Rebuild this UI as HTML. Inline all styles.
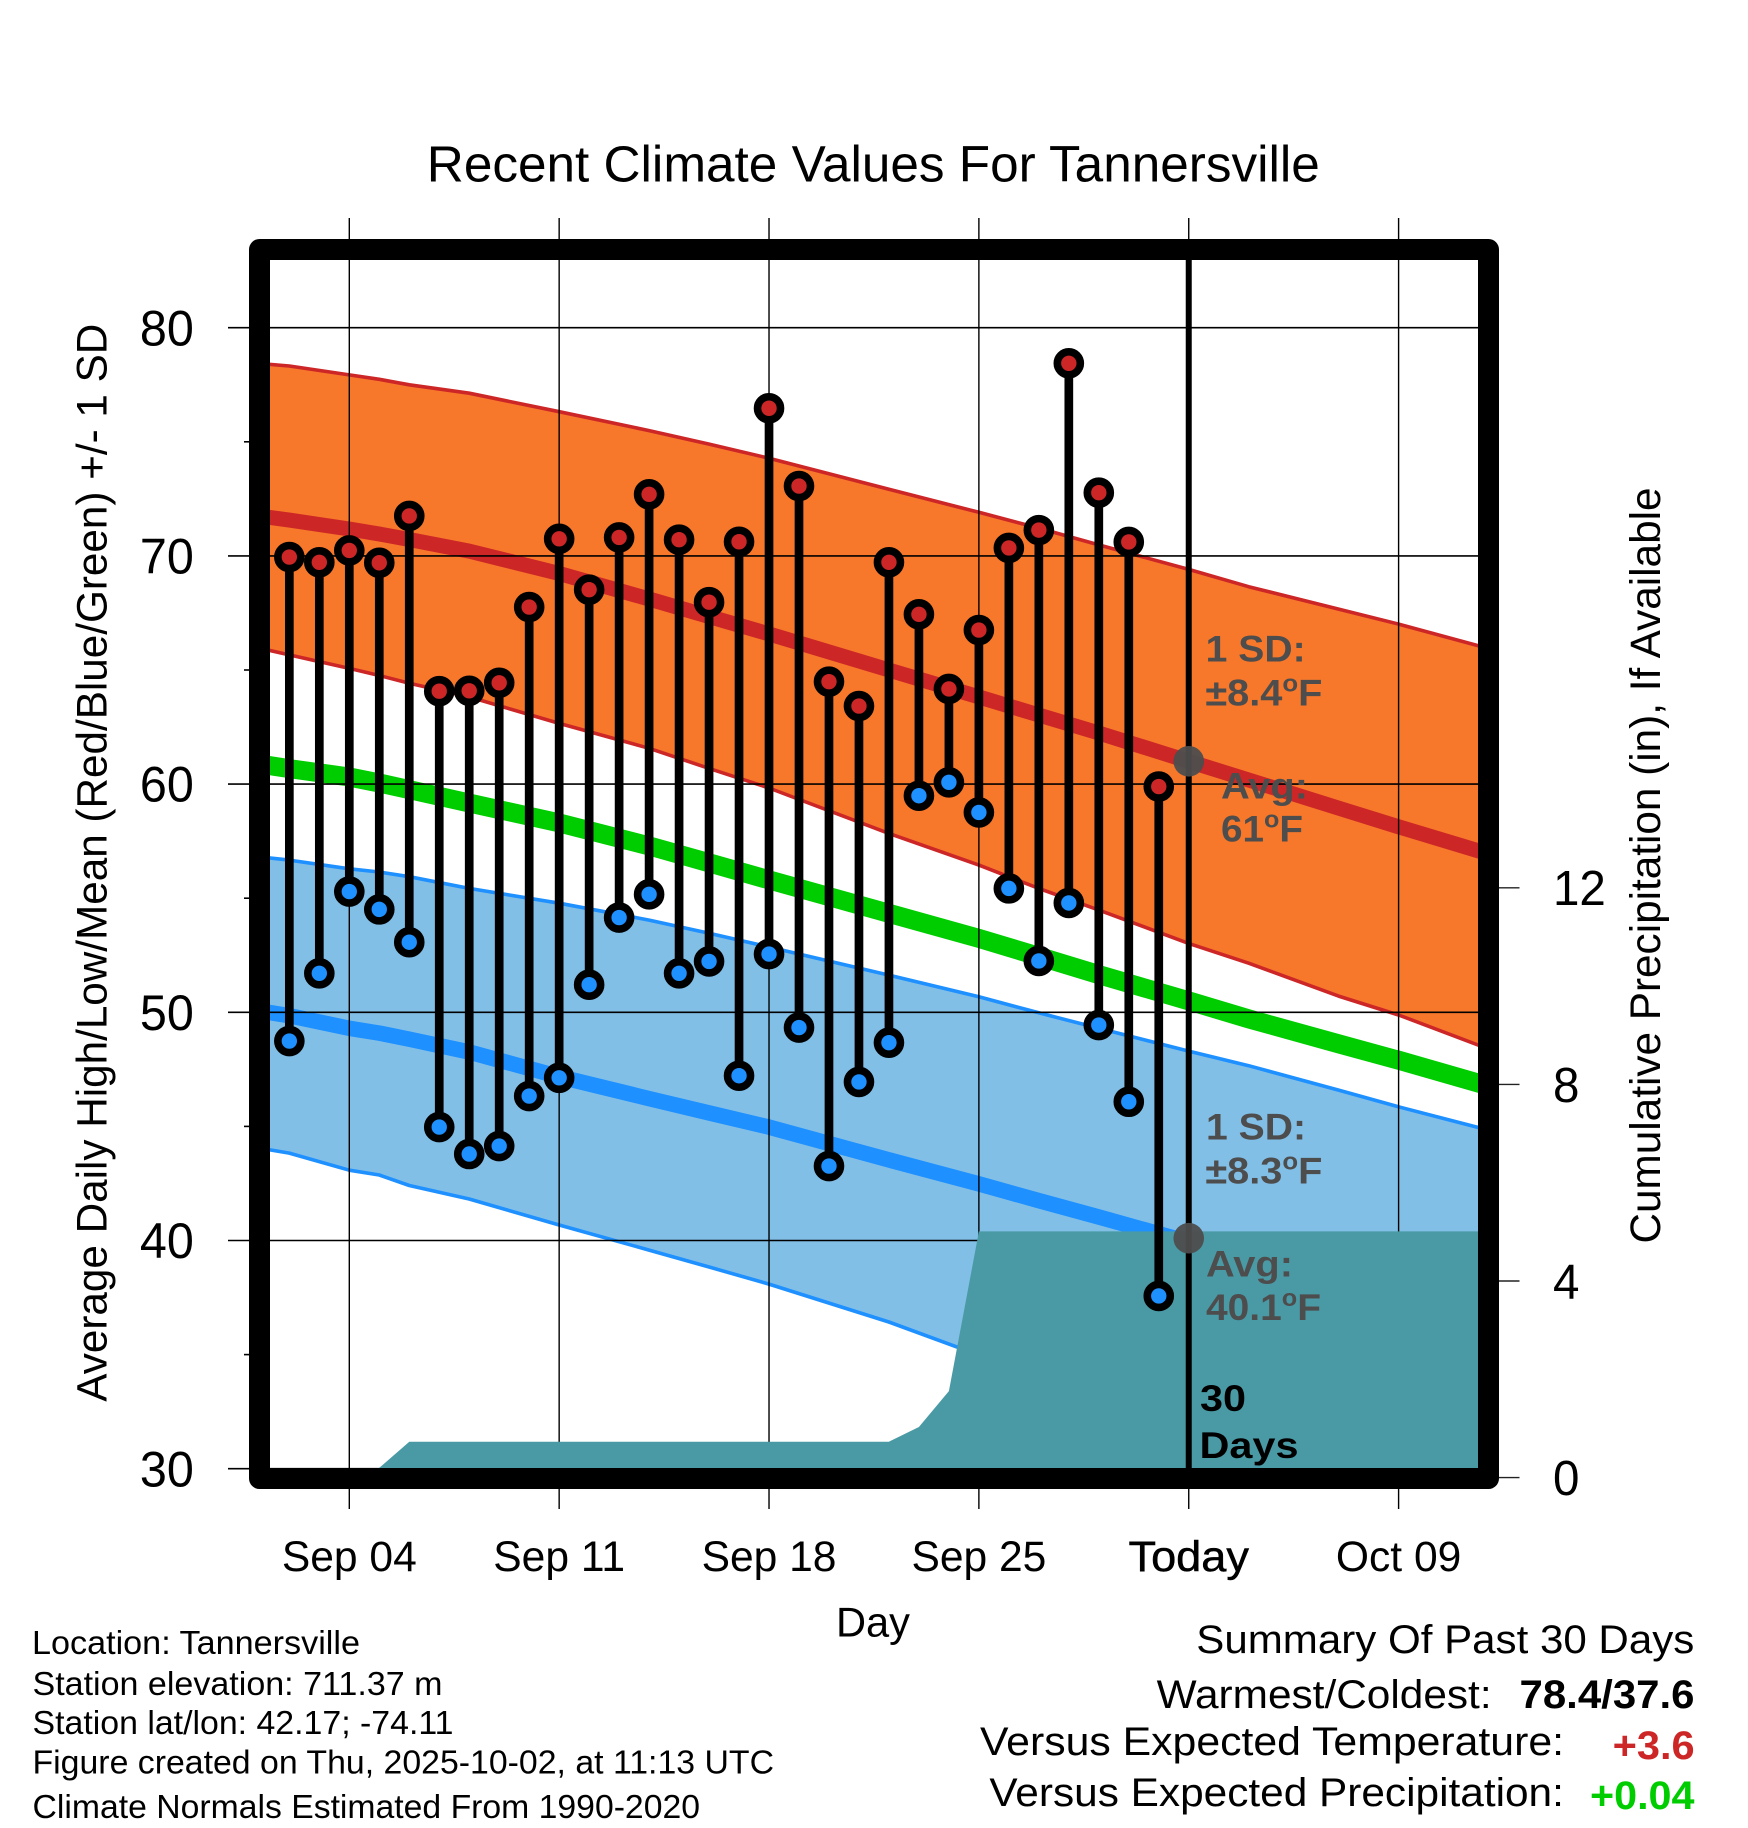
<!DOCTYPE html>
<html lang="en">
<head>
<meta charset="utf-8">
<title>Recent Climate Values For Tannersville</title>
<style>
html,body{margin:0;padding:0;background:#fff;}
svg{display:block;}
text{font-family:"Liberation Sans",Arial,sans-serif;}
</style>
</head>
<body>
<svg id="chart" xmlns="http://www.w3.org/2000/svg" width="1748" height="1828" viewBox="0 0 1748 1828">
  <defs>
    <clipPath id="plot-clip"><rect x="260" y="250" width="1228" height="1228"/></clipPath>
  </defs>
  <rect x="0" y="0" width="1748" height="1828" fill="#ffffff"/>
  <g id="plot"></g>

  <text x="426.8" y="181.5" font-size="51" textLength="893" lengthAdjust="spacingAndGlyphs">Recent Climate Values For Tannersville</text>
  <text transform="translate(106.5,1401.7) rotate(-90)" font-size="43" textLength="1078" lengthAdjust="spacingAndGlyphs">Average Daily High/Low/Mean (Red/Blue/Green) +/- 1 SD</text>
  <text transform="translate(1660,1243.5) rotate(-90)" font-size="43" textLength="756" lengthAdjust="spacingAndGlyphs">Cumulative Precipitation (in), If Available</text>
  <text x="836" y="1636.5" font-size="42" textLength="74" lengthAdjust="spacingAndGlyphs">Day</text>

  <g fill="#4d4d4d" font-weight="bold" font-size="37">
    <text x="1205.6" y="661.7" textLength="100" lengthAdjust="spacingAndGlyphs">1 SD:</text>
    <text x="1205.4" y="705.7" textLength="117" lengthAdjust="spacingAndGlyphs">±8.4<tspan font-size="24" dy="-14">o</tspan><tspan dy="14">F</tspan></text>
    <text x="1221" y="798.3" textLength="87" lengthAdjust="spacingAndGlyphs">Avg:</text>
    <text x="1221" y="841.7" textLength="82" lengthAdjust="spacingAndGlyphs">61<tspan font-size="24" dy="-14">o</tspan><tspan dy="14">F</tspan></text>
  </g>
  <g fill="#4d4d4d" font-weight="bold" font-size="37">
    <text x="1206" y="1139.3" textLength="100" lengthAdjust="spacingAndGlyphs">1 SD:</text>
    <text x="1205.4" y="1183.3" textLength="117" lengthAdjust="spacingAndGlyphs">±8.3<tspan font-size="24" dy="-14">o</tspan><tspan dy="14">F</tspan></text>
    <text x="1206" y="1276.7" textLength="87" lengthAdjust="spacingAndGlyphs">Avg:</text>
    <text x="1206" y="1320" textLength="115" lengthAdjust="spacingAndGlyphs">40.1<tspan font-size="24" dy="-14">o</tspan><tspan dy="14">F</tspan></text>
  </g>
  <text x="1200" y="1411" font-size="37" font-weight="bold" textLength="46" lengthAdjust="spacingAndGlyphs">30</text>
  <text x="1199.5" y="1458" font-size="37" font-weight="bold" textLength="99" lengthAdjust="spacingAndGlyphs">Days</text>

  <g font-size="33">
    <text x="32" y="1654" textLength="328" lengthAdjust="spacingAndGlyphs">Location: Tannersville</text>
    <text x="32.5" y="1695" textLength="410" lengthAdjust="spacingAndGlyphs">Station elevation: 711.37 m</text>
    <text x="32.5" y="1734" textLength="421" lengthAdjust="spacingAndGlyphs">Station lat/lon: 42.17; -74.11</text>
    <text x="32.5" y="1773.3" textLength="741.5" lengthAdjust="spacingAndGlyphs">Figure created on Thu, 2025-10-02, at 11:13 UTC</text>
    <text x="32.5" y="1818" textLength="667.5" lengthAdjust="spacingAndGlyphs">Climate Normals Estimated From 1990-2020</text>
  </g>

  <g font-size="40">
    <text x="1196.3" y="1652.8" textLength="498" lengthAdjust="spacingAndGlyphs">Summary Of Past 30 Days</text>
    <text x="1156.6" y="1707.8" textLength="335" lengthAdjust="spacingAndGlyphs">Warmest/Coldest:</text>
    <text x="1519.5" y="1707.8" font-weight="bold" textLength="175" lengthAdjust="spacingAndGlyphs">78.4/37.6</text>
    <text x="980" y="1754.8" textLength="584" lengthAdjust="spacingAndGlyphs">Versus Expected Temperature:</text>
    <text x="1612.6" y="1758.8" font-weight="bold" fill="#cd2626" textLength="82" lengthAdjust="spacingAndGlyphs">+3.6</text>
    <text x="989.4" y="1805.8" textLength="574.5" lengthAdjust="spacingAndGlyphs">Versus Expected Precipitation:</text>
    <text x="1590" y="1809.2" font-weight="bold" fill="#00cd00" textLength="104.5" lengthAdjust="spacingAndGlyphs">+0.04</text>
  </g>
</svg>

<script>
// Day offsets are counted from Sep 04.
const tickDays = [0, 7, 14, 21, 28, 35];
const tickDates = ["Sep 04", "Sep 11", "Sep 18", "Sep 25", "Today", "Oct 09"];
const tempTicks = [30, 40, 50, 60, 70, 80];
const tempMinorTicks = [35, 45, 55, 65, 75];
const precipTicks = [0, 4, 8, 12];

// Observed daily values, Sep 02 through Oct 01.
const obsDays = [-2,-1,0,1,2,3,4,5,6,7,8,9,10,11,12,13,14,15,16,17,18,19,20,21,22,23,24,25,26,27];
const dailyHigh = [69.95,69.72,70.24,69.70,71.75,64.07,64.09,64.44,67.76,70.75,68.52,70.81,72.70,70.71,67.97,70.62,76.47,73.06,64.49,63.42,69.72,67.44,64.17,66.75,70.35,71.13,78.44,72.77,70.61,59.89];
const dailyLow = [48.74,51.71,55.29,54.51,53.07,44.97,43.79,44.14,46.33,47.13,51.21,54.15,55.17,51.71,52.23,47.22,52.55,49.33,43.26,46.95,48.67,59.49,60.08,58.76,55.43,52.25,54.79,49.44,46.08,37.57];

// Climate normals, read at these day offsets.
const normalDays = [-3,-2,0,1,2,4,7,10,12,14,18,21,23,25,28,30,33,35,38];
const highPlusSd = [78.43,78.32,77.93,77.74,77.50,77.13,76.32,75.49,74.90,74.28,72.92,71.91,71.22,70.48,69.41,68.65,67.67,67.01,65.94];
const highMean = [71.75,71.57,71.18,70.96,70.72,70.21,69.23,68.11,67.34,66.58,65.00,63.82,63.03,62.24,61.00,60.18,58.95,58.13,56.94];
const highMinusSd = [65.96,65.66,65.07,64.76,64.42,63.82,62.66,61.57,60.69,59.83,57.84,56.45,55.43,54.48,53.02,52.15,50.71,49.88,48.39];
const dailyMean = [60.88,60.68,60.31,60.05,59.76,59.17,58.30,57.29,56.55,55.80,54.34,53.24,52.45,51.65,50.50,49.71,48.62,47.90,46.77];
const lowPlusSd = [56.81,56.67,56.29,56.15,55.94,55.43,54.78,54.04,53.46,52.86,51.63,50.68,49.98,49.30,48.30,47.66,46.59,45.86,44.84];
const lowMean = [50.06,49.85,49.30,49.09,48.82,48.26,47.18,46.22,45.59,44.97,43.53,42.48,41.75,41.03,39.93,39.27,38.18,37.48,36.43];
const lowMinusSd = [44.05,43.83,43.08,42.87,42.41,41.82,40.68,39.58,38.84,38.09,36.43,34.98,34.11,33.23,31.78,31.04,29.94,29.29,28.19];

// Cumulative precipitation in inches.
const precipDays = [0,1,2,18,19,20,21,28,38];
const precipTotals = [0,0.2,0.73,0.73,1.03,1.76,5.01,5.01,5.01];

// Today's normals.
const todayDay = 28;
const todayHighNormal = 61;
const todayLowNormal = 40.1;

const NS = "http://www.w3.org/2000/svg";
const plot = document.getElementById("plot");

function xScale(day) { return 349.3 + 29.98 * day; }
function yScale(temp) { return 1468.7 - 22.82 * (temp - 30); }
function yPrecip(inches) { return 1477.6 - 49.15 * inches; }

function make(tag, attrs) {
  const el = document.createElementNS(NS, tag);
  for (const k in attrs) el.setAttribute(k, attrs[k]);
  return el;
}
function linePoints(days, vals, scale) {
  return days.map((d, i) => xScale(d).toFixed(1) + "," + scale(vals[i]).toFixed(1));
}

// Filled bands
const bandSpecs = [
  ["high-sd-band", highPlusSd, highMinusSd, "#f7782b"],
  ["low-sd-band", lowPlusSd, lowMinusSd, "#82bfe7"]
];
bandSpecs.forEach(spec => {
  const upperPts = linePoints(normalDays, spec[1], yScale);
  const lowerPts = linePoints(normalDays, spec[2], yScale).reverse();
  const band = make("polygon", { points: upperPts.concat(lowerPts).join(" "), fill: spec[3], "clip-path": "url(#plot-clip)" });
  
  
  plot.appendChild(band);
});

// Normal lines
const lineSpecs = [
  ["high-plus-sd-line", highPlusSd, "#cd2626", 3.6],
  ["high-minus-sd-line", highMinusSd, "#cd2626", 3.6],
  ["low-plus-sd-line", lowPlusSd, "#1e90ff", 3.6],
  ["low-minus-sd-line", lowMinusSd, "#1e90ff", 3.6],
  ["high-mean-line", highMean, "#cd2626", 15],
  ["daily-mean-line", dailyMean, "#00cd00", 19],
  ["low-mean-line", lowMean, "#1e90ff", 15.5]
];
lineSpecs.forEach(spec => {
  const ln = make("polyline", {
    points: linePoints(normalDays, spec[1], yScale).join(" "),
    fill: "none", stroke: spec[2], "stroke-width": spec[3], "stroke-linejoin": "round", "clip-path": "url(#plot-clip)"
  });
  
  
  plot.appendChild(ln);
});

// Gridlines and ticks
tickDays.forEach((d, i) => {
  const g = make("line", { x1: xScale(d), x2: xScale(d), y1: 218, y2: 1509, stroke: "#000", "stroke-width": 1.4 });
  
  
  plot.appendChild(g);
});
tempTicks.forEach(t => {
  const g = make("line", { x1: 228, x2: 1478, y1: yScale(t), y2: yScale(t), stroke: "#000", "stroke-width": 1.6 });
  
  
  plot.appendChild(g);
});
tempMinorTicks.forEach(t => {
  const g = make("line", { x1: 244, x2: 260, y1: yScale(t), y2: yScale(t), stroke: "#000", "stroke-width": 1.6 });
  
  
  plot.appendChild(g);
});
precipTicks.forEach(p => {
  const g = make("line", { x1: 1490, x2: 1519.5, y1: yPrecip(p), y2: yPrecip(p), stroke: "#222", "stroke-width": 1.4 });
  
  
  plot.appendChild(g);
});

// Cumulative precipitation area
const lastPrecip = precipDays[precipDays.length - 1];
const precipPts = ["" + xScale(precipDays[0]) + "," + yPrecip(0)]
  .concat(linePoints(precipDays, precipTotals, yPrecip))
  .concat(["" + xScale(lastPrecip) + "," + yPrecip(0)]);
const precipArea = make("polygon", { points: precipPts.join(" "), fill: "#4a9aa6" });


plot.appendChild(precipArea);

// Today marker line
const todayLine = make("line", { x1: xScale(todayDay), x2: xScale(todayDay), y1: 255, y2: 1472, stroke: "#000", "stroke-width": 6 });


plot.appendChild(todayLine);

// Daily stems and markers
obsDays.forEach((d, i) => {
  const stem = make("line", { x1: xScale(d), x2: xScale(d), y1: yScale(dailyHigh[i]), y2: yScale(dailyLow[i]), stroke: "#000", "stroke-width": 8.7 });
  
  
  plot.appendChild(stem);
});
obsDays.forEach((d, i) => {
  const hi = make("circle", { cx: xScale(d), cy: yScale(dailyHigh[i]), r: 11.5, fill: "#cd2626", stroke: "#000", "stroke-width": 7.6 });
  
  
  plot.appendChild(hi);
  const lo = make("circle", { cx: xScale(d), cy: yScale(dailyLow[i]), r: 11.5, fill: "#1e90ff", stroke: "#000", "stroke-width": 7.6 });
  
  
  plot.appendChild(lo);
});

// Frame
const frame = make("rect", { x: 259.5, y: 249.5, width: 1229, height: 1229, fill: "none", stroke: "#000", "stroke-width": 21, "stroke-linejoin": "round" });


plot.appendChild(frame);

// Today's normal dots
const hiDot = make("circle", { cx: xScale(todayDay), cy: yScale(todayHighNormal), r: 15.3, fill: "#4d4d4d", "fill-opacity": 0.95 });


plot.appendChild(hiDot);
const loDot = make("circle", { cx: xScale(todayDay), cy: yScale(todayLowNormal), r: 15.3, fill: "#4d4d4d", "fill-opacity": 0.95 });


plot.appendChild(loDot);

// Tick labels
tempTicks.forEach(t => {
  const lab = make("text", { transform: "translate(193.8," + (yScale(t) + 17.6) + ") scale(0.97,1)", "text-anchor": "end", "font-size": 50 });
  lab.textContent = String(t);
  
  
  plot.appendChild(lab);
});
precipTicks.forEach(p => {
  const lab = make("text", { transform: "translate(1553," + (yPrecip(p) + 17.4) + ") scale(0.97,1)", "font-size": 49 });
  lab.textContent = String(p);
  
  
  plot.appendChild(lab);
});
tickDays.forEach((d, i) => {
  const sx = d === todayDay ? 1.05 : 0.99;
  const lab = make("text", { transform: "translate(" + xScale(d) + ",1571) scale(" + sx + ",1)", "text-anchor": "middle", "font-size": 43 });
  if (d === todayDay) { lab.setAttribute("stroke", "#000"); lab.setAttribute("stroke-width", "0.5"); }
  lab.textContent = tickDates[i];
  
  
  plot.appendChild(lab);
});
</script>
</body>
</html>
